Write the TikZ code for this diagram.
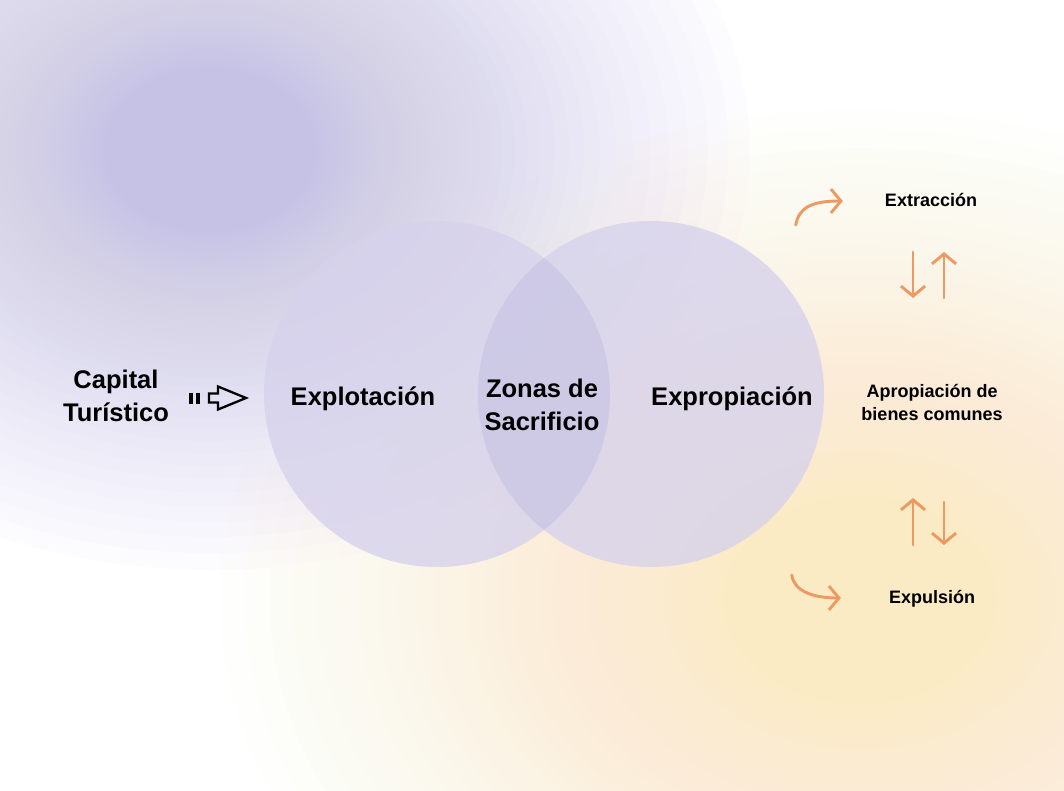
\documentclass[tikz,border=0pt]{standalone}
\usepackage{fontspec}
\setmainfont{Liberation Sans}
\usepackage{xcolor}
\usepackage{tikz}
\usetikzlibrary{positioning,arrows.meta,calc}

\definecolor{lila}{RGB}{214,210,236}
\definecolor{lente}{RGB}{190,187,222}
\definecolor{lilafondo}{RGB}{198,194,230}
\definecolor{amarillo}{RGB}{251,235,196}
\definecolor{naranja}{RGB}{238,152,98}

\begin{document}
\begin{tikzpicture}[x=1pt,y=-1pt]\tikzset{
	etiq/.style={font=\fontsize{25.5}{33}\selectfont\bfseries, align=center, inner sep=0pt, anchor=base},
	etiqchica/.style={font=\fontsize{18}{23}\selectfont\bfseries, align=center, inner sep=0pt, anchor=base},
	circulo/.style={circle, fill=lila, fill opacity=.8, minimum size=346pt, inner sep=0pt},
	flechanar/.style={draw=naranja, line width=2.9pt, line cap=round, -{Straight Barb[length=10pt,width=24pt]}},
	icono/.style={draw=black, line width=2.3pt, line join=miter},
	capa/.style={fill opacity=.04}}
	\useasboundingbox (0,0) rectangle (1064,791);
	\fill[white] (0,0) rectangle (1064,791);
	% fondo difuminado (capas)
	\begin{scope}
		\clip (0,0) rectangle (1064,791);
		\foreach \i in {0,...,79}
			\fill[lilafondo, capa] (210,150) ellipse [x radius={540*0.96^\i}, y radius={420*0.96^\i}];
		\foreach \i in {0,...,79}
			\fill[amarillo, capa] (860,600) ellipse [x radius={640*0.96^\i}, y radius={490*0.96^\i}];
	\end{scope}
	% circulos
	\node[circulo] (izq) at (437,394) {};
	\node[circulo] (der) at (651,394) {};
	\begin{scope}
		\clip (izq.center) circle [radius=173];
		\fill[lente, fill opacity=.35] (der.center) circle [radius=173];
	\end{scope}
	% textos
	\node[etiq] (capital) at (116,421) {Capital\\Turístico};
	\node[etiq] (explotacion) at (363,405) {Explotación};
	\node[etiq] (zonas) at (542,430) {Zonas de\\Sacrificio};
	\node[etiq] (expropiacion) at (732,405) {Expropiación};
	\node[etiqchica] (apropiacion) at (932,420) {Apropiación de\\bienes comunes};
	\node[etiqchica] (extraccion) at (931,207) {Extracción};
	\node[etiqchica] (expulsion) at (932,603) {Expulsión};
	% flecha hueca
	\coordinate (flecha) at (209,398);
	\foreach \x in {191,198}
		\draw[line width=3.3pt] (\x,392.5) -- (\x,403.5);
	\draw[icono] (flecha) -- ++(0,-4.5) -- ++(9,0) -- ++(0,-7) -- ++(28,11.5) -- ++(-28,11.5) -- ++(0,-7) -- ++(-9,0) -- cycle;
	% flechas naranjas
	\draw[flechanar] ($(extraccion.base west)+(-89,18)$) .. controls +(3,-18) and +(-30,0) .. ($(extraccion.base west)+(-42,-6)$);
	\draw[flechanar] ($(extraccion.base)+(-18,45)$) -- ($(extraccion.base)+(-18,91)$);
	\draw[flechanar] ($(extraccion.base)+(13,91)$) -- ($(extraccion.base)+(13,45)$);
	\draw[flechanar] ($(expulsion.base)+(-19,-58)$) -- ($(expulsion.base)+(-19,-105)$);
	\draw[flechanar] ($(expulsion.base)+(12,-101)$) -- ($(expulsion.base)+(12,-58)$);
	\draw[flechanar] ($(expulsion.base west)+(-97,-28)$) .. controls +(2,16) and +(-28,0) .. ($(expulsion.base west)+(-48,-5)$);
\end{tikzpicture}
\end{document}
